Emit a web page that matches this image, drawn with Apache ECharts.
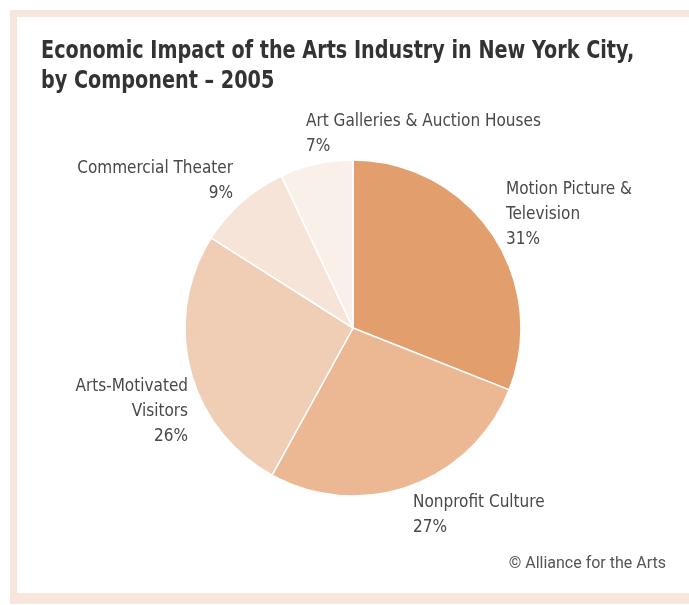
<!DOCTYPE html>
<html>
<head>
<meta charset="utf-8">
<script src="https://cdn.jsdelivr.net/npm/echarts@6/dist/echarts.min.js"></script>
<style>
  html, body { margin: 0; padding: 0; background: #ffffff; }
  #chart { width: 689px; height: 605px; }
</style>
</head>
<body>
<div id="chart"></div>
<script>
// Components of the arts industry's economic impact, NYC 2005 (percent of total)
const categories = [
  'Motion Picture &\nTelevision',
  'Nonprofit Culture',
  'Arts-Motivated\nVisitors',
  'Commercial Theater',
  'Art Galleries & Auction Houses'
];
const shares = [31, 27, 26, 9, 7];
const sliceColors = ['#E39E6D', '#ECB894', '#F0CDB5', '#F6E4D8', '#FAF0EA'];

const titleLines = ['Economic Impact of the Arts Industry in New York City,', 'by Component \u2013 2005'];
const sourceNote = '\u00A9 Alliance for the Arts';

// Label anchor per slice: [x, top, align]
const labelSpots = [
  [506, 177, 'left'],
  [413, 490, 'left'],
  [188, 374.5, 'right'],
  [233, 156, 'right'],
  [306, 109.5, 'left']
];

const condensedFont = '"DejaVu Sans Condensed", "Liberation Sans Narrow", sans-serif';

const chart = echarts.init(document.getElementById('chart'), null, { renderer: 'canvas' });

chart.setOption({
  backgroundColor: '#ffffff',
  animation: false,
  graphic: [
    { type: 'rect', shape: { x: 10, y: 10, width: 700, height: 594 }, style: { fill: '#F7E6DB' }, z: 0 },
    { type: 'rect', shape: { x: 17, y: 17, width: 700, height: 576 }, style: { fill: '#ffffff' }, z: 1 },
    {
      type: 'text', x: 41, y: 37, scaleX: 0.89, z: 2,
      style: {
        text: titleLines.join('\n'),
        font: 'bold 24px ' + condensedFont,
        lineHeight: 30,
        fill: '#333333'
      }
    },
    {
      type: 'text', right: 23, top: 556, z: 2,
      style: {
        text: sourceNote,
        font: '16px Roboto, "Open Sans", sans-serif',
        fill: '#555555'
      }
    }
  ],
  series: [{
    type: 'pie',
    center: [353, 328],
    radius: 168,
    startAngle: 90,
    clockwise: true,
    avoidLabelOverlap: false,
    z: 3,
    itemStyle: { borderColor: '#ffffff', borderWidth: 1.5 },
    emphasis: { disabled: true },
    label: {
      show: true,
      position: 'outside',
      formatter: p => p.name + '\n' + p.value + '%',
      fontFamily: condensedFont,
      fontSize: 17,
      lineHeight: 25,
      color: '#484848'
    },
    labelLine: { show: false },
    labelLayout: p => {
      const s = labelSpots[p.dataIndex];
      return { x: s[0], y: s[1], align: s[2], verticalAlign: 'top' };
    },
    data: categories.map((name, i) => ({
      name: name,
      value: shares[i],
      itemStyle: { color: sliceColors[i] },
      label: { align: labelSpots[i][2] }
    }))
  }]
});
</script>
</body>
</html>
